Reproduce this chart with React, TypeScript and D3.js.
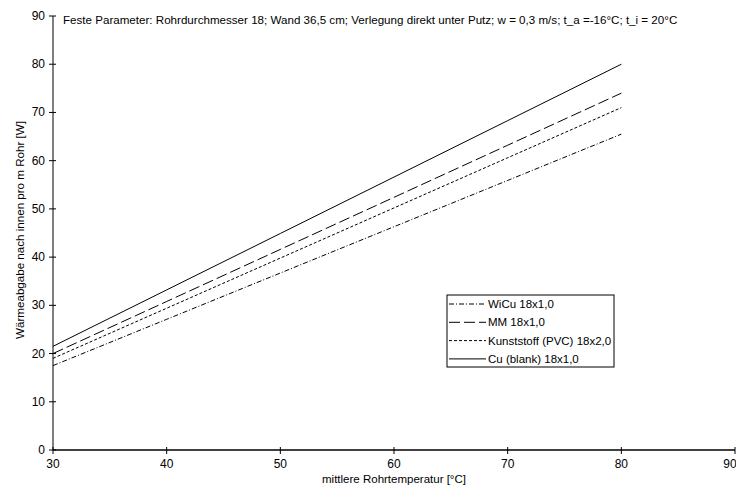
import { scaleLinear, line } from "d3";

const temps = [30, 40, 50, 60, 70, 80];
const wicu = [17.5, 27.1, 36.7, 46.3, 55.9, 65.5];
const mm = [20, 30.8, 41.6, 52.4, 63.2, 74];
const pvc = [19, 29.4, 39.8, 50.2, 60.6, 71];
const cu = [21.5, 33.2, 44.9, 56.6, 68.3, 80];

const xTicks = [30, 40, 50, 60, 70, 80, 90];
const yTicks = [0, 10, 20, 30, 40, 50, 60, 70, 80, 90];

const seriesNames = [
  "WiCu 18x1,0",
  "MM 18x1,0",
  "Kunststoff (PVC) 18x2,0",
  "Cu (blank) 18x1,0",
];
const dashes = ["5,2,1,2", "11,4", "3,2", ""];

const title =
  "Feste Parameter: Rohrdurchmesser 18; Wand 36,5 cm; Verlegung direkt unter Putz; w = 0,3 m/s; t_a =-16°C; t_i = 20°C";

const App = () => {
  const width = 736;
  const height = 491;
  const x = scaleLinear().domain([30, 90]).range([53, 735]);
  const y = scaleLinear().domain([0, 90]).range([450, 16]);
  const font = "'Liberation Sans', Arial, sans-serif";

  const all = [wicu, mm, pvc, cu];
  const path = line<number>()
    .x((_, i) => x(temps[i]))
    .y((d) => y(d));

  return (
    <svg
      width={width}
      height={height}
      style={{ position: "absolute", left: 0, top: 0, background: "#fff" }}
      fontFamily={font}
    >
      {/* axes */}
      <line x1={x(30)} x2={x(30)} y1={y(0)} y2={y(90)} stroke="#000" />
      <line x1={x(30)} x2={x(90)} y1={y(0)} y2={y(0)} stroke="#000" strokeWidth={1.5} />
      {yTicks.map((t) => (
        <g key={"y" + t}>
          <line x1={x(30) - 4} x2={x(30) + 3} y1={y(t)} y2={y(t)} stroke="#000" />
          <text x={x(30) - 8} y={y(t) + 4} fontSize={12} textAnchor="end">
            {t}
          </text>
        </g>
      ))}
      {xTicks.map((t) => (
        <g key={"x" + t}>
          <line x1={x(t)} x2={x(t)} y1={y(0) - 3} y2={y(0) + 4} stroke="#000" />
          <text x={x(t) - (t === 90 ? 5 : 0)} y={y(0) + 18} fontSize={12} textAnchor="middle">
            {t}
          </text>
        </g>
      ))}
      <text x={394} y={483} fontSize={11.5} textAnchor="middle">
        mittlere Rohrtemperatur [°C]
      </text>
      <text
        transform={`translate(24,230) rotate(-90)`}
        fontSize={11.6}
        textAnchor="middle"
      >
        Wärmeabgabe nach innen pro m Rohr [W]
      </text>
      <text x={63} y={24} fontSize={11.6}>
        {title}
      </text>

      {all.map((s, i) => (
        <path
          key={seriesNames[i]}
          d={path(s) || ""}
          fill="none"
          stroke="#000"
          strokeWidth={1}
          strokeDasharray={dashes[i]}
        />
      ))}

      {/* legend */}
      <rect x={447} y={295} width={167} height={72} fill="#fff" stroke="#000" />
      {seriesNames.map((n, i) => (
        <g key={"l" + n}>
          <line
            x1={449}
            x2={486}
            y1={304 + i * 18.3}
            y2={304 + i * 18.3}
            stroke="#000"
            strokeDasharray={dashes[i]}
          />
          <text x={488} y={308 + i * 18.3} fontSize={11.5}>
            {n}
          </text>
        </g>
      ))}
    </svg>
  );
};

export default App;
